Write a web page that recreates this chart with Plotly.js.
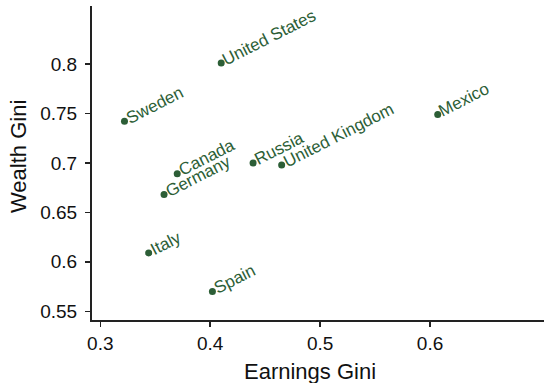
<!DOCTYPE html>
<html>
<head>
<meta charset="utf-8">
<script src="https://cdn.plot.ly/plotly-3.0.1.min.js"></script>
<style>html,body{margin:0;padding:0;background:#fff;}#chart{width:544px;height:383px;}</style>
</head>
<body>
<div id="chart"></div>
<script>
var countries = ["United States", "Sweden", "Canada", "Russia", "Germany", "Italy", "Spain", "United Kingdom", "Mexico"];
var earningsGini = [0.410, 0.322, 0.370, 0.439, 0.358, 0.344, 0.402, 0.465, 0.607];
var wealthGini = [0.801, 0.742, 0.689, 0.700, 0.668, 0.609, 0.570, 0.698, 0.749];
var xTicks = [0.3, 0.4, 0.5, 0.6];
var yTicks = [0.55, 0.6, 0.65, 0.7, 0.75, 0.8];
var yTickText = ["0.55", "0.6", "0.65", "0.7", "0.75", "0.8"];

var green = "#2c5e36";
var labelFont = 17;
var angDeg = 27;
var ang = angDeg * Math.PI / 180;
var boxH = labelFont * 1.2;

var annotations = countries.map(function (c, i) {
  return {
    x: earningsGini[i], y: wealthGini[i], xref: "x", yref: "y",
    text: c, showarrow: false, textangle: -angDeg,
    xanchor: "left", yanchor: "bottom",
    borderpad: 0, borderwidth: 0,
    xshift: -boxH / 2 * Math.sin(ang) + 3,
    yshift: -boxH / 2 * Math.cos(ang) + 3,
    font: {family: "Liberation Sans, Arial, sans-serif", size: labelFont, color: green}
  };
});

annotations.push({
  xref: "paper", yref: "paper", x: (310 - 92) / 452, y: -(371 - 320) / 314,
  xanchor: "center", yanchor: "middle", showarrow: false,
  text: "Earnings Gini",
  font: {family: "Liberation Sans, Arial, sans-serif", size: 22, color: "#111"}
});
annotations.push({
  xref: "paper", yref: "paper", x: -(92 - 18) / 452, y: (320 - 157) / 314,
  xanchor: "center", yanchor: "middle", showarrow: false, textangle: -90,
  text: "Wealth Gini",
  font: {family: "Liberation Sans, Arial, sans-serif", size: 22, color: "#111"}
});

var trace = {
  type: "scatter", mode: "markers",
  x: earningsGini, y: wealthGini, text: countries,
  marker: {size: 7, color: green},
  hoverinfo: "text+x+y"
};

var layout = {
  width: 544, height: 383,
  margin: {l: 92, r: 0, t: 6, b: 63},
  paper_bgcolor: "#fff", plot_bgcolor: "#fff",
  showlegend: false,
  font: {family: "Liberation Sans, Arial, sans-serif", color: "#111"},
  xaxis: {
    range: [0.29245, 0.7037], tickvals: xTicks, ticktext: ["0.3", "0.4", "0.5", "0.6"],
    showgrid: false, zeroline: false, showline: true, linecolor: "#222", linewidth: 2,
    ticks: "outside", ticklen: 5, tickwidth: 1.5, tickcolor: "#222",
    tickfont: {size: 19, color: "#111"}
  },
  yaxis: {
    range: [0.5412, 0.8586], tickvals: yTicks, ticktext: yTickText,
    showgrid: false, zeroline: false, showline: true, linecolor: "#222", linewidth: 2,
    ticks: "outside", ticklen: 5, tickwidth: 1.5, tickcolor: "#222",
    tickfont: {size: 19, color: "#111"}, ticklabelstandoff: 4
  },
  annotations: annotations
};

Plotly.newPlot("chart", [trace], layout, {displayModeBar: false, staticPlot: true});
</script>
</body>
</html>
